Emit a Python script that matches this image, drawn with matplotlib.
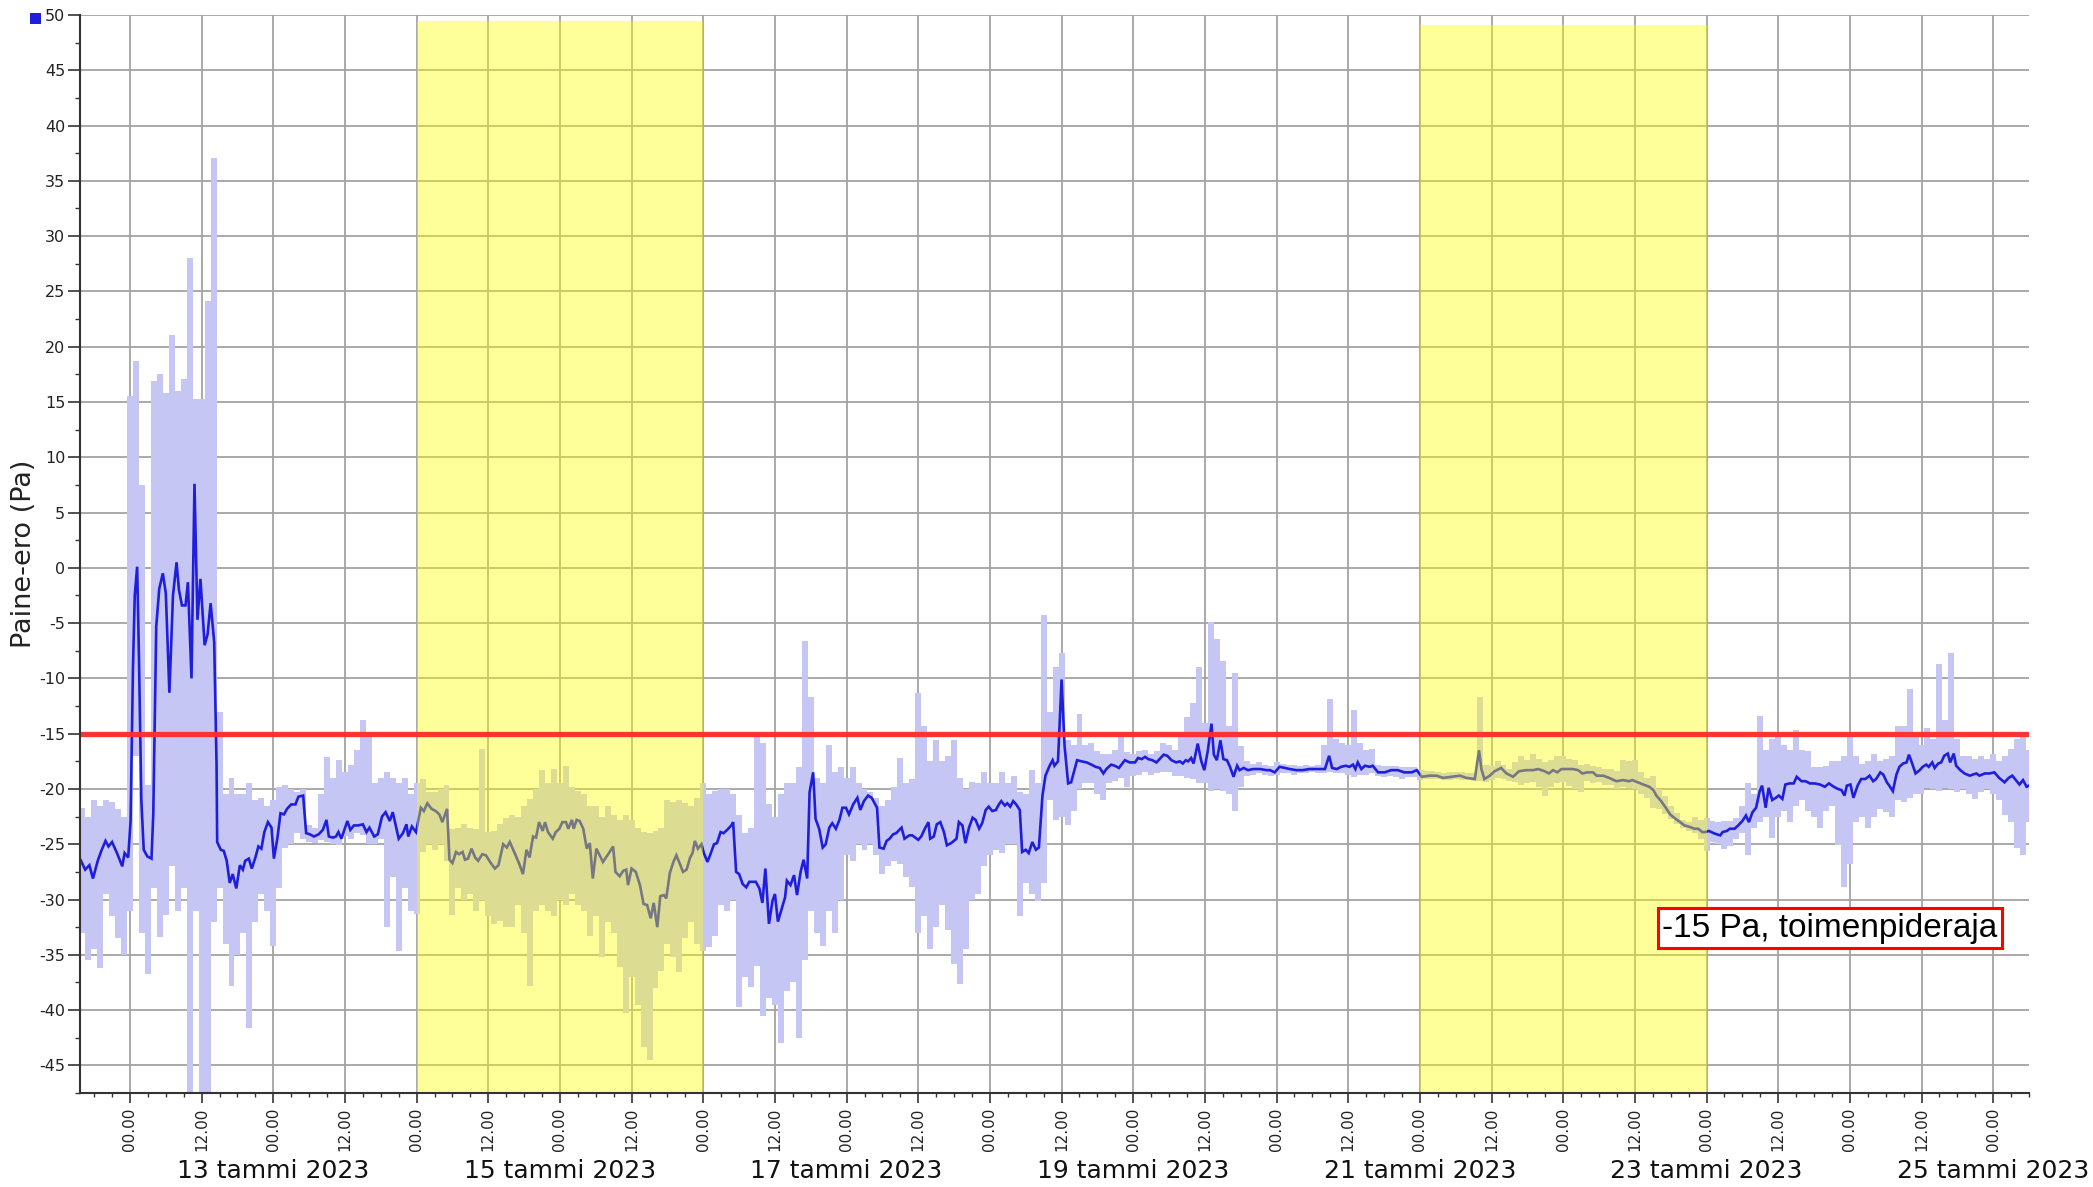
import numpy as np
import matplotlib
matplotlib.use("Agg")
import matplotlib.pyplot as plt
import matplotlib.transforms as mtransforms
from matplotlib.patches import Rectangle

plt.rcParams['font.family'] = ['DejaVu Sans']
plt.rcParams['axes.unicode_minus'] = False

# Time axis: hours counted from 12 Jan 2023 00:00
# Hourly min/max range of the pressure difference (Pa), first bar at hour -8
bar_first_hour = -8
bar_high = [
    -21.7, -22.5, -21.0, -21.5, -21.0, -21.2, -21.8, -22.5,
    15.5, 18.7, 7.5, -19.6, 16.9, 17.5, 15.8, 21.1, 16.0, 17.1, 28.0, 15.3, 15.3, 24.1, 37.1,
    -13.0, -20.5, -19.0, -20.5, -20.5, -19.5, -21.0, -20.8, -21.5, -21.0, -19.8, -19.6, -20.0, -20.3, -20.0, -23.3,
    -23.5, -20.5, -17.1, -19.0, -17.4, -18.5, -17.8, -16.5, -13.8, -15.0, -19.5, -19.0, -18.5, -19.0, -19.5, -19.0,
    -20.5, -19.5, -19.1, -20.3, -20.3, -20.0, -19.6, -23.6, -23.5, -23.2, -23.5, -23.6, -16.4, -23.9, -23.8, -23.2,
    -22.6, -22.4, -22.5, -21.5, -20.9, -20.0, -18.3, -19.5, -18.2, -19.5, -17.9, -19.8, -20.2, -20.5, -21.5, -21.5,
    -22.5, -21.5, -22.4, -22.8, -22.4, -22.8, -23.5, -23.9, -24.0, -23.8, -23.5, -21.0, -21.2, -21.0, -21.3, -21.5,
    -20.8, -19.5, -20.5, -20.2, -20.0, -20.0,
    -20.5, -22.4, -24.0, -23.5, -15.2, -15.8, -21.4, -22.5, -20.5, -19.5, -19.5, -18.0, -6.6, -11.7, -19.0, -19.5,
    -16.0, -18.5, -18.0, -19.0, -18.0, -19.5, -20.0, -20.3, -20.8, -21.5, -21.0, -19.8, -17.2, -19.5, -19.1, -11.3,
    -14.3, -17.5, -15.6, -17.5, -17.0, -15.6, -19.0, -20.0, -19.4, -19.5, -18.5, -19.5, -19.5, -18.5, -19.5, -18.8,
    -20.3, -20.5, -18.3, -19.5, -4.3, -13.0,
    -9.0, -7.7, -15.6, -16.0, -13.2, -16.0, -15.8, -16.6, -16.8, -16.8, -16.5, -15.2, -16.7, -16.8, -16.6, -16.5,
    -16.8, -16.6, -15.8, -16.0, -16.5, -15.2, -13.5, -12.2, -9.0, -14.0, -4.9, -6.4, -8.4, -14.3, -9.5, -16.1,
    -17.5, -17.7, -17.6, -17.8, -17.9, -17.6, -17.7, -17.8, -17.8, -17.9, -17.8, -17.9, -17.8, -16.0, -11.9, -15.5,
    -15.8, -16.0, -12.9, -15.8, -16.5,
    -16.4, -17.8, -17.9, -17.9, -17.9, -18.0, -18.0, -18.0, -18.3, -18.4, -18.4, -18.5, -18.6, -18.5, -18.5, -18.5,
    -18.6, -18.6, -11.7, -17.8, -17.9, -17.5, -17.8, -18.2, -17.6, -17.0, -17.4, -16.8, -17.3, -17.6, -17.4, -17.0,
    -17.0, -17.3, -17.4, -17.8, -17.7, -17.9, -18.0, -18.2, -18.2, -18.4, -17.4, -17.5, -17.4, -18.5, -19.0, -18.8,
    -20.0, -20.6, -21.5, -22.2, -22.8, -23.0,
    -22.5, -22.8, -22.6, -22.9, -23.0, -22.9, -22.9, -22.6, -21.5, -19.5, -20.5, -13.4, -16.5, -15.5, -15.0, -16.0,
    -16.5, -14.7, -16.5, -16.6, -18.0, -18.0, -17.9, -17.5, -17.5, -17.0, -14.9, -17.0, -17.7, -17.5, -16.8, -17.5,
    -17.3, -17.0, -14.3, -14.3, -11.0, -15.0, -16.0, -14.5, -15.5, -8.7, -13.8, -7.7, -15.5, -17.0, -17.0, -17.3,
    -17.0, -17.3, -16.8, -17.5, -17.0, -16.4, -15.5, -15.0, -16.5,
]
bar_low = [
    -33.0, -35.5, -34.5, -36.2, -29.5, -31.5, -33.5, -35.0,
    -31.0, -17.0, -33.0, -36.7, -29.0, -33.4, -31.4, -27.0, -31.0, -29.0, -47.5, -31.0, -47.5, -47.5, -32.0,
    -29.0, -34.0, -37.8, -35.0, -33.0, -41.6, -32.0, -29.5, -31.0, -34.2, -29.0, -25.3, -25.0, -24.0, -24.5, -24.8,
    -24.9, -24.6, -24.8, -25.0, -25.1, -24.3, -24.5, -24.0, -24.2, -25.0, -25.0, -24.5, -32.5, -28.0, -34.7, -29.0,
    -31.0, -31.3, -25.7, -25.0, -25.5, -25.0, -26.5, -31.4, -29.0, -30.0, -29.5, -31.0, -30.0, -31.5, -32.2, -31.9,
    -32.5, -32.5, -30.5, -33.0, -37.8, -31.0, -30.5, -31.0, -31.5, -30.0, -30.5, -29.5, -30.5, -31.0, -33.3, -31.5,
    -35.2, -32.0, -33.0, -36.1, -40.3, -37.0, -39.5, -43.3, -44.5, -38.0, -36.5, -34.0, -35.2, -36.6, -33.5, -32.0,
    -34.0, -34.7, -34.3, -33.3, -30.5, -31.0,
    -30.0, -39.7, -37.0, -37.9, -36.0, -40.5, -38.9, -39.5, -43.0, -38.3, -37.5, -42.5, -35.5, -31.0, -33.0, -34.2,
    -31.0, -33.0, -30.0, -26.0, -26.5, -25.0, -25.5, -25.0, -26.0, -27.7, -27.0, -26.5, -26.8, -28.0, -28.9, -33.0,
    -31.5, -34.5, -32.5, -30.5, -32.8, -35.8, -37.6, -34.5, -30.0, -29.5, -27.0, -26.0, -25.5, -25.8, -25.0, -25.0,
    -31.5, -28.5, -29.5, -30.1, -28.5, -21.0,
    -22.8, -22.5, -23.3, -22.0, -20.0, -19.5, -19.5, -20.5, -21.0, -19.5, -19.3, -19.0, -19.8, -18.8, -18.7, -18.5,
    -18.7, -18.6, -18.5, -18.5, -18.8, -18.8, -19.0, -19.1, -19.5, -19.5, -20.2, -20.0, -20.2, -20.5, -22.0, -19.8,
    -18.8, -18.7, -18.6, -18.7, -18.8, -18.7, -18.6, -18.6, -18.7, -18.6, -18.6, -18.5, -18.6, -18.6, -18.5, -18.6,
    -18.6, -18.7, -18.9, -18.7, -18.7,
    -18.6, -18.8, -18.9, -18.8, -18.9, -19.1, -18.9, -18.9, -19.2, -19.1, -19.1, -19.1, -19.2, -19.2, -19.1, -19.2,
    -19.2, -19.3, -19.3, -19.4, -19.2, -19.0, -19.1, -19.3, -19.4, -19.6, -19.5, -19.4, -19.8, -20.6, -19.8, -19.5,
    -19.4, -19.7, -20.0, -20.3, -19.3, -19.5, -19.4, -19.6, -19.6, -20.0, -19.8, -19.9, -20.0, -20.5, -20.8, -21.7,
    -21.8, -22.3, -22.7, -23.2, -23.5, -23.8,
    -24.0, -24.5, -25.6, -24.8, -25.0, -25.4, -25.2, -24.5, -24.0, -26.0, -23.5, -23.0, -22.5, -24.4, -22.5, -22.0,
    -23.0, -21.5, -21.0, -22.0, -22.5, -23.5, -22.0, -21.5, -25.1, -28.9, -26.8, -23.0, -22.5, -23.5, -22.5, -21.8,
    -22.1, -22.5, -21.0, -21.2, -20.8, -20.5, -20.5, -19.9, -20.0, -20.2, -19.9, -20.0, -20.3, -20.0, -20.5, -20.9,
    -20.3, -20.0, -20.5, -21.0, -22.4, -23.0, -25.3, -26.0, -23.0,
]

# Running mean (hour, Pa), one list per stretch of days
mean_11_13jan = [
    (-8.3, -26.4), (-7.5, -27.3), (-6.8, -26.9), (-6.2, -28.1), (-5.4, -26.5), (-4.8, -25.6), (-4.1, -24.7),
    (-3.6, -25.2), (-3.0, -24.8), (-2.1, -25.9), (-1.3, -27.0), (-0.9, -25.8), (-0.3, -26.2), (0.1, -22.9),
    (0.5, -9.1), (0.8, -2.5), (1.2, 0.1), (1.5, -8.0), (1.9, -21.0), (2.3, -25.5), (2.9, -26.1), (3.6, -26.3),
    (3.9, -22.3), (4.4, -5.3), (4.9, -1.9), (5.5, -0.5), (6.0, -2.3), (6.6, -11.3), (7.2, -2.5), (7.8, 0.5),
    (8.2, -2.0), (8.7, -3.4), (9.3, -3.4), (9.7, -1.3), (10.3, -10.0), (10.8, 7.6), (11.3, -4.7), (11.8, -1.0),
    (12.5, -7.0), (13.0, -6.0), (13.5, -3.2), (14.1, -6.7), (14.5, -17.9), (14.6, -24.8), (15.2, -25.5),
    (15.7, -25.6), (16.2, -26.5), (16.7, -28.5), (17.2, -27.7), (17.8, -29.0), (18.4, -26.9), (18.9, -27.3),
    (19.3, -26.5), (19.9, -26.3), (20.4, -27.2), (21.0, -26.2), (21.5, -25.2), (22.0, -25.4), (22.5, -23.9),
    (23.1, -23.0), (23.7, -23.5), (24.1, -26.3), (24.7, -24.4), (25.2, -22.2), (25.8, -22.3), (26.3, -21.8),
    (27.0, -21.4), (27.7, -21.4), (28.2, -20.7), (29.0, -20.6), (29.5, -24.0), (30.1, -24.1), (30.8, -24.3),
    (31.6, -24.1), (32.3, -23.7), (32.9, -22.8), (33.3, -24.3), (34.0, -24.4), (34.5, -24.3), (34.9, -23.9),
    (35.4, -24.5), (35.9, -23.7), (36.4, -22.9), (36.9, -23.7), (37.5, -23.3), (38.2, -23.3), (39.0, -23.2),
    (39.6, -23.9), (40.1, -23.5), (40.9, -24.3), (41.5, -24.1), (42.2, -22.5), (42.8, -22.1), (43.5, -22.9),
    (44.0, -22.1), (45.0, -24.5), (45.7, -24.0), (46.3, -23.2),
]
mean_14_15jan = [
    (46.6, -24.3), (47.2, -23.4), (47.9, -23.9), (48.7, -21.7), (49.2, -22.0), (49.8, -21.3), (50.5, -21.8),
    (51.2, -22.0), (51.8, -22.3), (52.3, -23.0), (53.1, -21.8), (53.5, -26.4), (54.0, -26.7), (54.6, -25.7),
    (55.1, -25.9), (55.7, -25.7), (56.1, -26.4), (56.6, -26.3), (57.2, -25.4), (57.8, -26.2), (58.3, -26.5),
    (59.0, -25.9), (59.6, -26.0), (60.3, -26.6), (61.1, -27.2), (61.7, -26.9), (62.5, -25.0), (63.1, -25.3),
    (63.6, -24.8), (64.5, -25.9), (65.2, -26.8), (65.8, -27.7), (66.4, -25.5), (66.9, -26.2), (67.5, -24.3),
    (68.0, -24.4), (68.5, -23.0), (69.1, -23.8), (69.5, -23.0), (70.0, -23.9), (70.8, -24.5), (71.3, -23.9),
    (71.9, -23.6), (72.4, -23.0), (73.0, -23.0), (73.4, -23.6), (74.0, -22.8), (74.3, -23.6), (74.8, -22.8),
    (75.3, -22.9), (75.9, -23.6), (76.5, -25.4), (77.0, -24.9), (77.5, -28.1), (78.1, -25.4), (79.2, -26.6),
    (80.2, -25.8), (80.9, -25.2), (81.3, -27.5), (82.0, -27.9), (82.6, -27.4), (83.1, -27.3), (83.4, -28.7),
    (84.0, -27.2), (84.7, -27.5), (85.4, -28.7), (86.0, -30.4), (86.6, -30.5), (87.2, -31.7), (87.7, -30.3),
    (88.3, -32.5), (88.8, -29.7), (89.4, -29.6), (89.8, -29.9), (90.4, -27.6), (91.0, -26.6), (91.5, -26.0),
    (92.1, -26.8), (92.6, -27.5), (93.2, -27.3), (93.8, -26.2), (94.2, -25.8), (94.6, -24.7), (95.1, -25.4),
    (95.7, -25.0), (96.1, -25.8), (96.7, -26.6), (97.2, -25.9), (97.8, -25.0), (98.3, -24.9), (98.9, -23.9),
    (99.4, -24.0),
]
mean_16_18jan = [
    (100.0, -23.7), (100.7, -23.3), (101.0, -23.0), (101.5, -27.5), (102.0, -27.7), (102.6, -28.6),
    (103.2, -28.9), (103.7, -28.4), (104.4, -28.4), (104.8, -28.4), (105.4, -29.0), (105.9, -30.3),
    (106.4, -27.2), (107.0, -32.2), (107.6, -30.1), (108.0, -29.5), (108.5, -32.0), (109.1, -30.9),
    (109.7, -29.8), (110.0, -28.3), (110.6, -28.7), (111.2, -27.8), (111.7, -29.6), (112.3, -27.5),
    (112.8, -26.4), (113.4, -28.1), (113.8, -20.3), (114.4, -18.5), (114.8, -22.7), (115.4, -23.6),
    (116.0, -25.3), (116.5, -25.0), (117.1, -23.5), (117.6, -23.1), (118.2, -23.6), (118.8, -22.8),
    (119.3, -21.7), (119.9, -21.7), (120.4, -22.3), (121.1, -21.4), (121.8, -20.8), (122.3, -21.9),
    (122.9, -21.1), (123.6, -20.6), (124.2, -20.8), (124.7, -21.3), (125.1, -21.7), (125.5, -25.3),
    (126.2, -25.4), (126.7, -24.7), (127.2, -24.5), (127.8, -24.1), (128.3, -24.0), (129.2, -23.5),
    (129.7, -24.5), (130.5, -24.2), (131.0, -24.2), (132.0, -24.6), (132.5, -24.3), (133.1, -23.6),
    (133.7, -23.0), (134.0, -24.5), (134.6, -24.3), (135.1, -23.2), (135.7, -23.0), (136.3, -23.9),
    (136.8, -25.1), (137.5, -24.9), (138.4, -24.5), (138.8, -23.0), (139.4, -23.3), (139.9, -24.9),
    (140.5, -23.5), (141.1, -22.6), (141.6, -22.8), (142.2, -23.6), (142.7, -23.1), (143.3, -21.9),
    (143.8, -21.6), (144.4, -22.0), (145.0, -21.9), (145.5, -21.4), (145.9, -21.1), (146.5, -21.5),
    (146.9, -21.3), (147.4, -21.6), (147.9, -21.1), (148.4, -21.4), (149.0, -21.9), (149.4, -25.7),
    (150.0, -25.5), (150.5, -25.8), (151.1, -24.8), (151.7, -25.5), (152.2, -25.3), (152.8, -20.6),
    (153.3, -18.8), (154.0, -17.9),
]
mean_18_20jan = [
    (154.5, -17.4), (154.8, -17.9), (155.4, -17.5), (156.0, -10.1), (156.5, -16.1), (157.1, -19.5),
    (157.6, -19.4), (158.6, -17.4), (159.3, -17.5), (160.2, -17.6), (161.0, -17.8), (161.7, -18.0),
    (162.4, -18.1), (163.0, -18.6), (163.5, -18.2), (164.3, -17.8), (164.9, -17.9), (165.6, -18.1),
    (166.6, -17.4), (167.4, -17.6), (168.3, -17.6), (168.8, -17.2), (169.4, -17.3), (170.0, -17.1),
    (170.5, -17.3), (171.2, -17.4), (171.9, -17.6), (172.4, -17.3), (173.1, -16.9), (173.7, -17.0),
    (174.4, -17.4), (175.2, -17.6), (175.8, -17.5), (176.3, -17.7), (176.8, -17.4), (177.2, -17.5),
    (177.7, -17.2), (178.1, -17.7), (178.8, -15.9), (179.4, -17.5), (179.9, -18.3), (180.5, -16.5),
    (181.1, -14.1), (181.5, -16.9), (182.0, -17.4), (182.6, -15.6), (183.1, -17.3), (183.7, -17.4),
    (184.2, -18.0), (184.8, -18.9), (185.4, -17.9), (185.8, -18.3), (186.5, -18.1), (187.2, -18.3),
    (188.1, -18.2), (189.3, -18.2), (190.3, -18.3), (190.9, -18.3), (191.7, -18.5), (192.5, -18.0),
    (193.4, -18.1), (194.2, -18.2), (195.3, -18.3), (196.4, -18.3), (197.5, -18.2), (198.6, -18.2),
    (200.1, -18.2), (200.8, -17.0), (201.3, -18.1), (202.1, -18.2), (202.8, -18.0), (203.6, -17.9),
    (204.2, -18.0), (204.8, -17.8), (205.2, -18.2), (205.6, -17.6), (206.2, -18.2), (206.8, -17.9),
    (207.6, -18.0),
]
mean_20_22jan = [
    (208.1, -17.9), (209.0, -18.5), (210.1, -18.5), (211.2, -18.3), (212.3, -18.3), (213.4, -18.5),
    (214.6, -18.5), (215.5, -18.3), (216.3, -18.9), (217.6, -18.8), (218.8, -18.8), (219.9, -19.0),
    (221.3, -18.9), (222.7, -18.8), (223.8, -19.0), (225.2, -19.1), (225.9, -16.5), (226.3, -18.2),
    (226.8, -19.1), (227.7, -18.8), (228.5, -18.4), (229.6, -18.1), (230.5, -18.6), (231.6, -18.9),
    (232.6, -18.4), (233.8, -18.3), (235.0, -18.3), (235.8, -18.2), (236.9, -18.4), (237.6, -18.6),
    (238.3, -18.3), (239.0, -18.5), (239.7, -18.2), (240.6, -18.2), (241.6, -18.2), (242.5, -18.3),
    (243.2, -18.6), (244.0, -18.5), (245.0, -18.5), (245.6, -18.8), (246.7, -18.8), (247.7, -19.0),
    (248.9, -19.3), (250.0, -19.2), (251.0, -19.3), (251.6, -19.2), (252.5, -19.4), (253.4, -19.6),
    (254.4, -19.8), (255.1, -20.1), (255.6, -20.6), (256.4, -21.1), (257.3, -21.8), (257.9, -22.3),
    (258.8, -22.7), (259.6, -23.0), (260.3, -23.3), (261.0, -23.4),
]
mean_23_25jan = [
    (262.0, -23.6), (262.6, -23.6), (263.3, -23.9), (263.8, -23.9), (264.4, -23.8), (265.2, -24.0),
    (265.7, -24.1), (266.3, -24.2), (266.7, -23.9), (267.4, -23.8), (267.9, -23.6), (268.7, -23.6),
    (269.3, -23.3), (270.0, -22.9), (270.6, -22.4), (271.1, -23.0), (271.7, -22.1), (272.3, -21.7),
    (272.9, -20.2), (273.3, -19.7), (273.9, -21.7), (274.4, -19.9), (275.0, -21.0), (275.6, -20.8),
    (276.1, -20.6), (276.7, -20.9), (277.2, -19.6), (277.9, -19.5), (278.6, -19.5), (279.1, -18.9),
    (279.9, -19.3), (280.6, -19.3), (281.3, -19.5), (282.1, -19.5), (283.0, -19.6), (283.8, -19.8),
    (284.5, -19.5), (285.3, -19.8), (286.0, -20.0), (286.6, -20.1), (287.1, -20.6), (287.5, -19.7),
    (288.1, -19.6), (288.6, -20.8), (289.3, -19.7), (289.9, -19.1), (290.6, -19.1), (291.3, -18.8),
    (291.9, -19.3), (292.4, -19.1), (293.1, -18.5), (293.6, -18.7), (294.2, -19.4), (294.6, -19.7),
    (295.2, -20.2), (295.8, -18.7), (296.3, -18.0), (296.9, -17.7), (297.5, -17.6), (297.9, -16.9),
    (298.5, -17.8), (299.0, -18.6), (299.7, -18.3), (300.2, -18.0), (300.8, -17.8), (301.2, -18.0),
    (301.8, -17.6), (302.2, -18.1), (302.8, -17.7), (303.3, -17.6), (303.8, -17.0), (304.4, -16.8),
    (304.8, -17.6), (305.4, -16.8), (305.8, -17.9), (306.5, -18.3), (307.2, -18.6), (308.1, -18.8),
    (308.6, -18.7), (309.2, -18.6), (309.7, -18.8), (310.6, -18.6), (311.4, -18.6), (312.2, -18.5),
    (313.0, -19.0), (313.9, -19.4), (314.6, -19.0), (315.2, -18.8), (315.8, -19.2), (316.4, -19.6),
    (317.0, -19.2), (317.6, -19.8), (318.0, -19.7),
]

# Weekends (start hour, end hour, top of band in Pa)
weekend_spans = [(48, 96, 49.45), (216, 264, 49.1)]

limit_pa = -15.0
limit_text = "-15 Pa, toimenpideraja"

date_hours = [24, 72, 120, 168, 216, 264, 312]
date_texts = ["13 tammi 2023", "15 tammi 2023", "17 tammi 2023", "19 tammi 2023",
              "21 tammi 2023", "23 tammi 2023", "25 tammi 2023"]
clock_texts = ["00.00", "12.00"]
y_label = "Paine-ero (Pa)"

x_range = (-8.37, 318.0)
y_range = (-47.4, 50.0)

# ---------------------------------------------------------------------------
W, H = 2093, 1187
fig = plt.figure(figsize=(W / 100, H / 100), dpi=100)
ax = fig.add_axes([80 / W, (H - 1093) / H, (2029 - 80) / W, (1093 - 15) / H])
ax.set_xlim(*x_range)
ax.set_ylim(*y_range)

# grid
ax.set_axisbelow(True)
ax.grid(True, which='major', color='#a3a3a3', linewidth=1.3, zorder=0)

# min/max range bars
bar_hours = np.arange(bar_first_hour, bar_first_hour + len(bar_high))
hi = np.array(bar_high)
lo = np.array(bar_low)
ax.bar(bar_hours, hi - lo, bottom=lo, width=1.0, color='#c6c6f4', linewidth=0, zorder=2)

# running mean line
mean_pts = np.array(mean_11_13jan + mean_14_15jan + mean_16_18jan +
                    mean_18_20jan + mean_20_22jan + mean_23_25jan)
ax.plot(mean_pts[:, 0], mean_pts[:, 1], color='#1e1edc', linewidth=1.9,
        solid_joinstyle='miter', zorder=3)

# weekend highlight drawn over the data
for start, end, top in weekend_spans:
    ax.add_patch(Rectangle((start, y_range[0]), end - start, top - y_range[0],
                           facecolor='#ffff00', alpha=0.4, linewidth=0, zorder=4))

# action limit
ax.axhline(limit_pa, color='#ff2b2b', linewidth=3.8, alpha=0.95, zorder=5)
ax.text(256.6, -32.6, limit_text, fontsize=24, family=['Liberation Sans', 'DejaVu Sans'],
        ha='left', va='center', color='black', zorder=7,
        bbox=dict(boxstyle='square,pad=0.14', facecolor='white', edgecolor='#ff0000', linewidth=2.2))

# axes styling
for side in ('top', 'right'):
    ax.spines[side].set_visible(False)
for side in ('left', 'bottom'):
    ax.spines[side].set_color('#333333')
    ax.spines[side].set_linewidth(1.5)
    ax.spines[side].set_zorder(6)

major_x = np.arange(0, 313, 12)
ax.set_xticks(major_x)
ax.set_xticklabels([clock_texts[i % 2] for i in range(len(major_x))],
                   rotation=90, fontsize=11, color='#222222')
ax.set_xticks(np.arange(-6, 319, 3), minor=True)
ax.set_yticks(np.arange(-45, 51, 5))
ax.set_yticklabels([f"{v:d}" for v in np.arange(-45, 51, 5)], fontsize=11.5, color='#222222')
ax.set_yticks(np.arange(-47.5, 50.1, 2.5), minor=True)
ax.tick_params(axis='x', which='major', length=7.2, width=1.2, color='#333333', pad=3)
ax.tick_params(axis='x', which='minor', length=3.0, width=1.0, color='#333333')
ax.tick_params(axis='y', which='major', length=8.6, width=1.2, color='#333333', pad=2)
ax.tick_params(axis='y', which='minor', length=3.6, width=1.0, color='#333333')

# date labels under the clock labels
trans = mtransforms.blended_transform_factory(ax.transData, ax.transAxes)
for h, txt in zip(date_hours, date_texts):
    ax.text(h, -(1178 - 1093) / 1078, txt, transform=trans, ha='center', va='baseline',
            fontsize=18, color='#111111', clip_on=False)

fig.text(24 / W, 1 - 554 / H, y_label, rotation=90, ha='center', va='center',
         fontsize=19.5, color='#222222')

# series marker in the corner
fig.patches.append(Rectangle((30 / W, 1 - 24 / H), 11 / W, 11 / H, transform=fig.transFigure,
                             facecolor='#1e1edc', edgecolor='none'))

fig.savefig('out.png', dpi=100, facecolor='white')
